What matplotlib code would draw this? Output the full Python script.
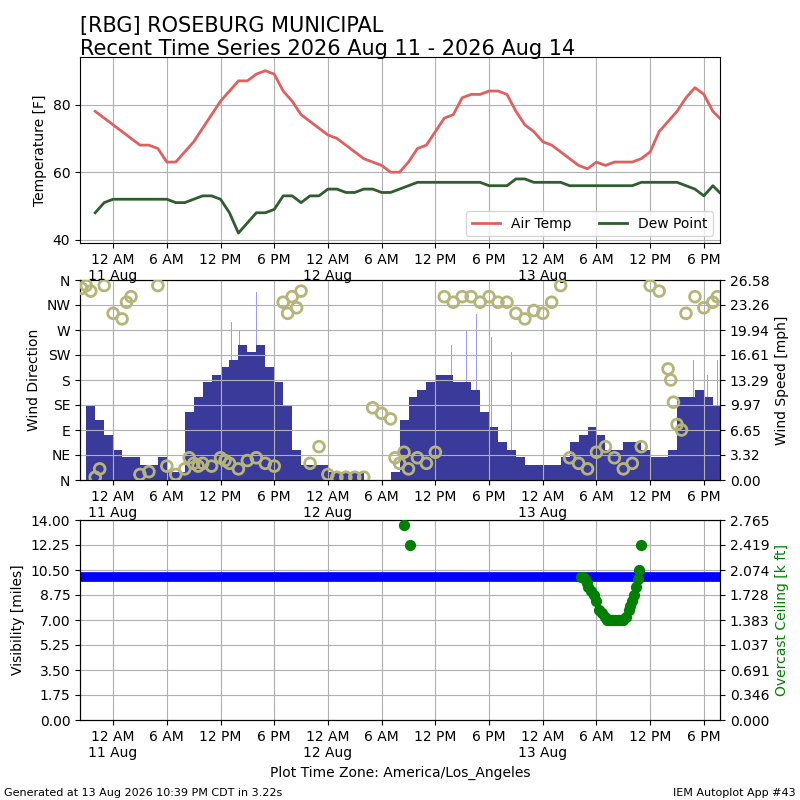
import matplotlib
matplotlib.use('Agg')
import matplotlib.pyplot as plt
import numpy as np

# hours relative to 2026 Aug 11 00:00 (local)
temp_hours = [-2, -1] + list(range(0, 68)) + [67.75]
temp_f = [78, 76,
          74, 72, 70, 68, 68, 67, 63, 63, 66, 69, 73, 77,
          81, 84, 87, 87, 89, 90, 89, 84, 81, 77, 75, 73,
          71, 70, 68, 66, 64, 63, 62, 60, 60, 63, 67, 68,
          72, 76, 77, 82, 83, 83, 84, 84, 83, 78, 74, 72,
          69, 68, 66, 64, 62, 61, 63, 62, 63, 63, 63, 64,
          66, 72, 75, 78, 82, 85, 83, 78, 76]
dewp_f = [48, 51,
          52, 52, 52, 52, 52, 52, 52, 51, 51, 52, 53, 53,
          52, 48, 42, 45, 48, 48, 49, 53, 53, 51, 53, 53,
          55, 55, 54, 54, 55, 55, 54, 54, 55, 56, 57, 57,
          57, 57, 57, 57, 57, 57, 56, 56, 56, 58, 58, 57,
          57, 57, 57, 56, 56, 56, 56, 56, 56, 56, 56, 57,
          57, 57, 57, 57, 56, 55, 53, 56, 54]

wind_hours = list(range(-3, 68))
wind_mph = [10, 8, 6,
            4, 3, 3, 2, 2, 3, 1, 1, 9, 11, 13, 14,
            15, 16, 18, 17, 18, 15, 13, 10, 4, 2, 2, 2,
            1, 1, 1, 1, 0, 0, 0, 1, 8, 11, 12, 13,
            14, 14, 13, 13, 12, 9, 7, 5, 4, 3, 2, 2,
            2, 2, 3, 5, 6, 7, 6, 4, 4, 5, 5, 4,
            3, 3, 4, 11, 11, 12, 11, 10]
gust_hours = [11.5, 13.2, 14.1, 15.3, 16.0, 16.4, 17.2, 18.1, 37.2, 37.8, 39.5, 40.6, 42.3, 44.5, 64.8, 66.4, 67.5]
gust_mph = [18, 21, 20, 23, 25, 24, 21, 19, 17, 18, 20, 22, 19, 17, 16, 14, 16]

dir_hours = [-3.5, -3, -2.5, -2, -1.5, -1, 0, 1, 1.5, 2, 3, 4, 5, 6, 7, 8, 8.5, 9, 9.5, 10, 11, 12, 12.5, 13, 14, 15, 16, 17, 18,
             19, 19.5, 20, 20.5, 21, 22, 23, 24, 25, 26, 27, 28, 29, 30, 31, 31.5, 32, 32.5, 33, 34, 35, 36, 37, 38,
             39, 40, 41, 42, 43, 44, 45, 46, 47, 48, 49, 50, 51, 52, 53, 54, 55, 56, 57, 58, 59, 60, 61, 62, 62.3,
             62.6, 63, 63.5, 64, 65, 66, 67, 67.5]
dir_deg = [345, 350, 340, 5, 20, 350, 300, 290, 320, 330, 10, 15, 350, 25, 10, 20, 40, 30, 25, 30, 25, 40, 35, 30, 20, 35, 40, 30, 25,
           320, 300, 330, 310, 340, 30, 60, 10, 5, 5, 5, 5, 130, 120, 110, 40, 30, 50, 20, 40, 30, 50, 330, 320,
           330, 330, 320, 330, 320, 320, 300, 290, 305, 300, 320, 350, 40, 30, 20, 50, 60, 40, 20, 30, 60, 350, 340, 200,
           180, 140, 100, 90, 300, 330, 310, 320, 330]

ceil_hours = [32.5, 33.2, 52.3, 52.5, 52.7, 52.9, 53.1, 53.4, 53.7, 54.0, 54.3, 54.6, 54.9, 55.2, 55.5, 55.8,
              56.1, 56.4, 56.7, 57.0, 57.3, 57.6, 57.8, 58.0, 58.2, 58.4, 58.6, 58.8, 59.0]
ceil_kft = [2.69, 2.42, 1.98, 1.98, 1.95, 1.90, 1.84, 1.78, 1.73, 1.65, 1.52, 1.48, 1.43, 1.38, 1.38, 1.38,
            1.38, 1.38, 1.38, 1.38, 1.43, 1.52, 1.58, 1.65, 1.73, 1.84, 1.95, 2.08, 2.42]
vis_hours = [-3.7, 67.8]
vis_miles = [10, 10]

wind_ticklabels = ['0.00', '3.32', '6.65', '9.97', '13.29', '16.61', '19.94', '23.26', '26.58']
ceil_ticklabels = ['0.000', '0.346', '0.691', '1.037', '1.383', '1.728', '2.074', '2.419', '2.765']

ticks = list(range(0, 67, 6))
def lab(h):
    hr = h % 24
    s = {0: '12 AM', 6: '6 AM', 12: '12 PM', 18: '6 PM'}[hr]
    if hr == 0:
        s += '\n%d Aug' % (11 + h // 24)
    return s
labels = [lab(h) for h in ticks]
xlim = (-3.7, 67.8)

fig = plt.figure(figsize=(8, 8), dpi=100)
fig.text(0.1, 0.953, '[RBG] ROSEBURG MUNICIPAL\nRecent Time Series 2026 Aug 11 - 2026 Aug 14',
         fontsize=15, va='center')
fig.text(0.005, 0.005, 'Generated at 13 Aug 2026 10:39 PM CDT in 3.22s', fontsize=8)
fig.text(0.995, 0.005, 'IEM Autoplot App #43', fontsize=8, ha='right')

ax1 = fig.add_axes([0.1, 0.696, 0.8, 0.2325])
ax1.plot(temp_hours, temp_f, color='#e0605f', lw=2, label='Air Temp')
ax1.plot(temp_hours, dewp_f, color='#2e5e2e', lw=2, label='Dew Point')
ax1.set_ylabel('Temperature [F]')
ax1.set_ylim(39, 94)
ax1.set_yticks([40, 60, 80])
ax1.legend(loc='lower right', ncol=2)

ax2 = fig.add_axes([0.1, 0.4, 0.8, 0.25])
ax2b = ax2.twinx()
ax2b.bar(gust_hours, gust_mph, width=0.08, color='#9999ff', zorder=1)
ax2b.bar(wind_hours, wind_mph, width=1.0, align='edge', color='#3a3a9a', zorder=2)
ax2b.set_ylim(0, 26.58)
ax2b.set_yticks(np.linspace(0, 26.58, 9))
ax2b.set_yticklabels(wind_ticklabels)
ax2b.set_ylabel('Wind Speed [mph]')
ax2.set_zorder(ax2b.get_zorder() + 1)
ax2.patch.set_visible(False)
ax2.scatter(dir_hours, dir_deg, s=60, facecolor='none', edgecolor='#b5b57a', lw=2, zorder=3)
ax2.set_ylim(0, 360)
ax2.set_yticks(range(0, 361, 45))
ax2.set_yticklabels(['N', 'NE', 'E', 'SE', 'S', 'SW', 'W', 'NW', 'N'])
ax2.set_ylabel('Wind Direction')

ax3 = fig.add_axes([0.1, 0.1, 0.8, 0.25])
ax3.plot(vis_hours, vis_miles, color='blue', lw=7)
ax3.set_ylim(0, 14)
ax3.set_yticks(np.arange(0, 14.01, 1.75))
ax3.set_ylabel('Visibility [miles]')
ax3.set_xlabel('Plot Time Zone: America/Los_Angeles')
ax3b = ax3.twinx()
ax3b.scatter(ceil_hours, ceil_kft, s=50, color='green', zorder=3)
ax3b.set_ylim(0, 2.765)
ax3b.set_yticks(np.linspace(0, 2.765, 9))
ax3b.set_yticklabels(ceil_ticklabels)
ax3b.set_ylabel('Overcast Ceiling [k ft]', color='green')

for ax in (ax1, ax2, ax3):
    ax.set_xlim(*xlim)
    ax.set_xticks(ticks)
    ax.set_xticklabels(labels)
    ax.grid(True)

fig.savefig('out.png')
